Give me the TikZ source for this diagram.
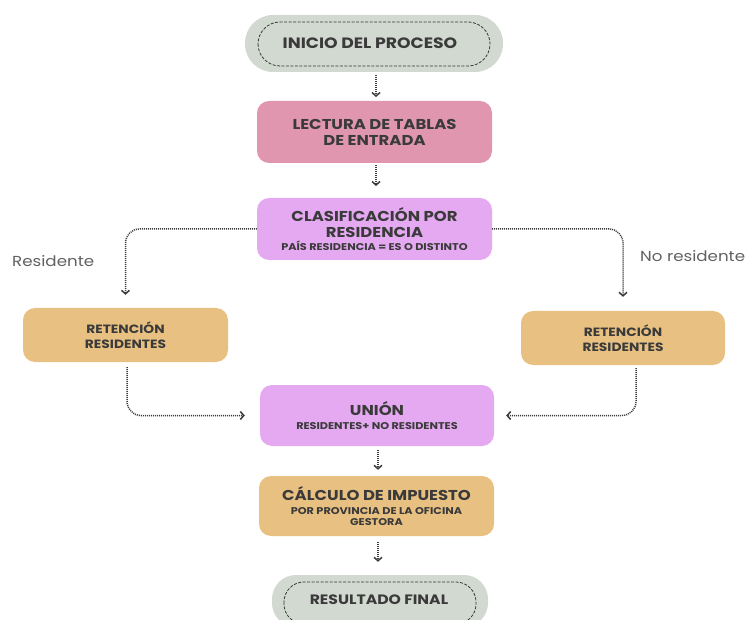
\documentclass[tikz,border=0pt]{standalone}
\usepackage{fontspec}
\setmainfont[FakeStretch=1.15]{Poppins}
\usetikzlibrary{arrows.meta}
\definecolor{pillc}{HTML}{D2D9D0}
\definecolor{pinkc}{HTML}{E096AE}
\definecolor{lavc}{HTML}{E4A9F0}
\definecolor{oranc}{HTML}{E8C182}
\definecolor{txtc}{HTML}{3A3A3A}
\definecolor{linec}{HTML}{3A3A3A}
\newcommand{\smalltxt}[1]{{\fontsize{9.8}{11}\selectfont #1}}
\begin{document}
\begin{tikzpicture}[x=1pt,y=-1pt,
  boxst/.style={draw=none,rounded corners=12pt,align=center,text=txtc,font=\bfseries\fontsize{14.3}{16}\selectfont,inner sep=0pt},
  pillst/.style={draw=none,fill=pillc,rounded corners=#1,inner sep=0pt},
  innerst/.style={draw=linec,dashed,line width=0.8pt,dash pattern=on 3pt off 1.5pt,rounded corners=#1},
  conn/.style={draw=linec,line width=1.5pt,dash pattern=on 1pt off 1pt,rounded corners=14pt,
     -{Straight Barb[length=3.5pt,width=8pt,line width=1.5pt]}},
  lbl/.style={text=txtc!80,font=\fontsize{14.5}{16}\selectfont,inner sep=0pt}
]
\useasboundingbox (0,0) rectangle (747,620);
% start pill
\node[pillst=28pt,minimum width=258pt,minimum height=57pt] (start) at (374,43.5) {};
\draw[innerst=22pt] (258,22) rectangle (490,66);
\node[text=txtc,font=\bfseries\fontsize{15}{17}\selectfont] (startt) at (370,43) {INICIO DEL PROCESO};
% lectura
\node[boxst,fill=pinkc,minimum width=235pt,minimum height=62pt] (lect) at (374.5,132) {LECTURA DE TABLAS\\DE ENTRADA};
% clasificacion
\node[boxst,fill=lavc,minimum width=235pt,minimum height=62pt] (clas) at (374.5,229)
  {CLASIFICACIÓN POR\\RESIDENCIA\\[-3pt]\smalltxt{PAÍS RESIDENCIA = ES O DISTINTO}};
% retention boxes
\node[boxst,fill=oranc,minimum width=205pt,minimum height=54pt,font=\bfseries\fontsize{12}{15}\selectfont] (retl) at (125.5,335) {RETENCIÓN\\RESIDENTES};
\node[boxst,fill=oranc,minimum width=204pt,minimum height=54pt,font=\bfseries\fontsize{12}{15}\selectfont] (retr) at (623,338) {RETENCIÓN\\RESIDENTES};
% union
\node[boxst,fill=lavc,minimum width=234pt,minimum height=61pt] (union) at (377,415.5)
  {UNIÓN\\[-2pt]\smalltxt{RESIDENTES+ NO RESIDENTES}};
% calculo
\node[boxst,fill=oranc,minimum width=235pt,minimum height=60pt] (calc) at (376.5,506)
  {CÁLCULO DE IMPUESTO\\[-2pt]\smalltxt{POR PROVINCIA DE LA OFICINA}\\[-5pt]\smalltxt{GESTORA}};
% result pill
\node[pillst=24pt,minimum width=216pt,minimum height=52pt] (res) at (380,601) {};
\draw[innerst=20pt] (284,582) rectangle (476,624);
\node[text=txtc,font=\bfseries\fontsize{13.6}{15}\selectfont] (rest) at (379,600) {RESULTADO FINAL};
% labels
\node[lbl,anchor=west] (lres) at (12,261) {Residente};
\node[lbl,anchor=west] (lnres) at (640,256) {No residente};
% connectors
\draw[conn,shorten <=3pt,shorten >=4pt] (start.south -| 376,0) -- (376,101);
\draw[conn,shorten <=2pt,shorten >=12pt] (376,163) -- (376,198);
\draw[conn,shorten >=13pt] (clas.west) -| (retl.north);
\draw[conn,shorten >=14pt] (clas.east) -| (retr.north);
\draw[conn,shorten <=5pt,shorten >=15pt] (retl.south -| 127,0) |- (union.west);
\draw[conn,shorten <=3pt,shorten >=12pt] (retr.south -| 636,0) |- (union.east);
\draw[conn,shorten <=4pt,shorten >=6pt] (union.south -| 378,0) -- (calc.north -| 378,0);
\draw[conn,shorten <=6pt,shorten >=13pt] (calc.south -| 378,0) -- (res.north -| 378,0);
\end{tikzpicture}
\end{document}
